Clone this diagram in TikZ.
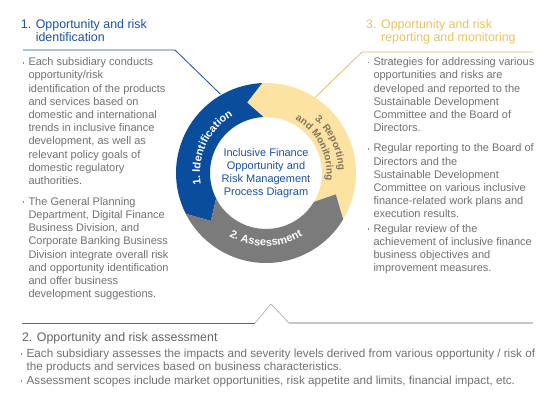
\documentclass[tikz,border=0pt]{standalone}
\usepackage{fontspec}
\setmainfont{Liberation Sans}
\usetikzlibrary{decorations.text,calc}
\definecolor{ringblue}{RGB}{10,77,156}
\definecolor{ringyellow}{RGB}{253,227,162}
\definecolor{ringgray}{RGB}{123,123,123}
\definecolor{headblue}{RGB}{25,80,160}
\definecolor{headgold}{RGB}{231,195,95}
\definecolor{linegold}{RGB}{222,190,105}
\definecolor{bodygray}{RGB}{112,112,112}
\definecolor{headgray}{RGB}{100,100,100}
\definecolor{mongray}{RGB}{128,116,96}
\newcommand\bul{\llap{\textcolor{bodygray!80}{\rule[2.2pt]{1.8pt}{1.8pt}}\hspace{4.2pt}}}
\begin{document}
\begin{tikzpicture}[x=1pt,y=1pt,body/.style={anchor=base west,inner sep=0pt,align=left,text=bodygray,font=\fontsize{11}{13.2}\selectfont},bodyB/.style={body,font=\fontsize{11.7}{13.4}\selectfont},head/.style={anchor=base west,inner sep=0pt,align=left,font=\fontsize{12.4}{13.4}\selectfont},core/.style={align=center,inner sep=0pt,text=headblue,font=\fontsize{11}{13}\selectfont},arctext/.style={decorate,decoration={text along path,text align=center,text color=#1}},callout/.style={line width=0.8pt}]
\def\Ro{90}
\def\Ri{56}
\def\Rm{73}

\useasboundingbox (0,0) rectangle (553,401);
\coordinate (ring) at (266,228);

\begin{scope}[shift={(ring)}]
\fill[ringyellow] (-31:\Ro) arc[start angle=-31,end angle=92.5,radius=\Ro] -- (105:\Rm) -- (92.5:\Ri) arc[start angle=92.5,end angle=-31,radius=\Ri] -- (-17:\Rm) -- cycle;
\fill[ringblue] (92.5:\Ro) arc[start angle=92.5,end angle=207,radius=\Ro] -- (221:\Rm) -- (207:\Ri) arc[start angle=207,end angle=92.5,radius=\Ri] -- (105:\Rm) -- cycle;
\fill[ringgray] (207:\Ro) arc[start angle=207,end angle=329,radius=\Ro] -- (343:\Rm) -- (329:\Ri) arc[start angle=329,end angle=207,radius=\Ri] -- (221:\Rm) -- cycle;

\path[arctext=white,decoration={text={|\fontsize{11}{11}\bfseries|1. Identification}}] (215:66) arc[start angle=215,end angle=95,radius=66];
\path[arctext=white,decoration={text={|\fontsize{11}{11}\bfseries|2. Assessment}}] (190:73) arc[start angle=190,end angle=350,radius=73];
\path[arctext=mongray,decoration={text={|\fontsize{10}{10}\bfseries|3. Reporting}}] (75:72.5) arc[start angle=75,end angle=-25,radius=72.5];
\path[arctext=mongray,decoration={text={|\fontsize{10}{10}\bfseries|and Monitoring}}] (77:60.5) arc[start angle=77,end angle=-23,radius=60.5];
\end{scope}

\node[core] (core) at (ring) {Inclusive Finance\\Opportunity and\\Risk Management\\Process Diagram};

\node[head,text=headblue] (headA) at (20.7,359.3) {1. Opportunity and risk\\\phantom{1. }identification};
\coordinate (lineA1) at (23,351);
\coordinate (lineA2) at (175,351);
\coordinate (lineA3) at ($(ring)+(120:91)$);
\draw[callout,headblue] (lineA1) -- (lineA2) -- (lineA3);

\node[body] (itemA1) at (28.3,216.4) {\bul Each subsidiary conducts\\opportunity/risk\\identification of the products\\and services based on\\domestic and international\\trends in inclusive finance\\development, as well as\\relevant policy goals of\\domestic regulatory\\authorities.};
\node[body] (itemA2) at (28.3,103.2) {\bul The General Planning\\Department, Digital Finance\\Business Division, and\\Corporate Banking Business\\Division integrate overall risk\\and opportunity identification\\and offer business\\development suggestions.};

\node[head,text=headgold] (headC) at (366,359.3) {3. Opportunity and risk\\\hspace*{15pt}reporting and monitoring};
\coordinate (lineC1) at (533,349);
\coordinate (lineC2) at (362,349);
\coordinate (lineC3) at ($(ring)+(57:90)$);
\draw[callout,linegold] (lineC1) -- (lineC2) -- (lineC3);

\node[body] (itemC1) at (373.3,269.3) {\bul Strategies for addressing various\\opportunities and risks are\\developed and reported to the\\Sustainable Development\\Committee and the Board of\\Directors.};
\node[body] (itemC2) at (373.3,183) {\bul Regular reporting to the Board of\\Directors and the\\Sustainable Development\\Committee on various inclusive\\finance-related work plans and\\execution results.};
\node[body] (itemC3) at (373.3,129) {\bul Regular review of the\\achievement of inclusive finance\\business objectives and\\improvement measures.};

\coordinate (lineB1) at (21.8,78);
\coordinate (lineB2) at (255,78);
\coordinate (lineB3) at (271,97);
\coordinate (lineB4) at (289,78);
\coordinate (lineB5) at (533,78);
\draw[line width=0.7pt,headgray] (lineB1) -- (lineB2);
\draw[line width=0.6pt,gray!70] (lineB2) -- (lineB3) -- (lineB4);
\draw[line width=1.4pt,gray!45] (lineB4) -- (lineB5);

\node[head,text=headgray] (headB) at (21.8,59.5) {2. Opportunity and risk assessment};
\node[bodyB] (itemB1) at (26.4,30.3) {\bul Each subsidiary assesses the impacts and severity levels derived from various opportunity / risk of\\the products and services based on business characteristics.};
\node[bodyB] (itemB2) at (26.4,16.6) {\bul Assessment scopes include market opportunities, risk appetite and limits, financial impact, etc.};
\end{tikzpicture}
\end{document}
